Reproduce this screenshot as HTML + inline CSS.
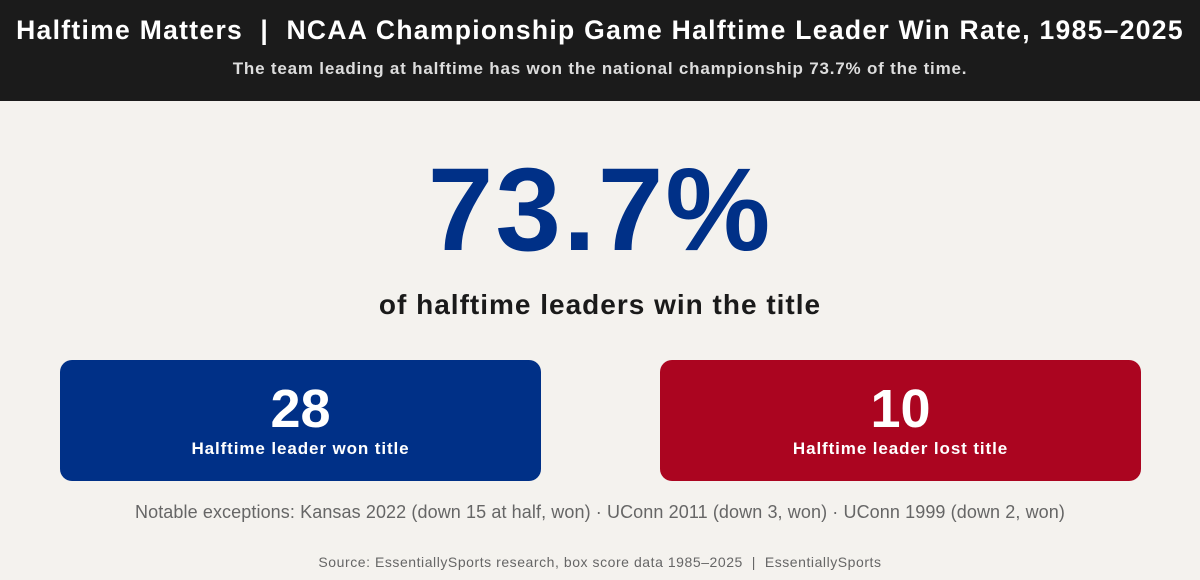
<!DOCTYPE html>
<html><head><meta charset="utf-8"><style>
*{margin:0;padding:0;box-sizing:border-box}
body{width:1200px;height:580px;background:#f4f2ee;font-family:"Liberation Sans",sans-serif;position:relative;overflow:hidden}
.hdr{position:absolute;left:0;top:0;width:1200px;height:101px;background:#1b1b1b}
.t{position:absolute;left:0;width:1200px;text-align:center;white-space:nowrap}
.box{position:absolute;top:360px;width:481px;height:121px;border-radius:12px;color:#fff;text-align:center}
.box .n{position:absolute;left:0;width:100%;top:20px;font-size:54px;font-weight:bold;line-height:58px}
.box .l{position:absolute;left:0;width:100%;top:78px;font-size:17px;font-weight:bold;line-height:22px;letter-spacing:0.9px}
</style></head><body>
<div class="hdr"></div>
<div class="t" style="top:14px;font-size:26.5px;font-weight:bold;color:#fff;line-height:32px;letter-spacing:1.3px">Halftime Matters &nbsp;| &nbsp;NCAA Championship Game Halftime Leader Win Rate, 1985–2025</div>
<div class="t" style="top:58px;font-size:17px;font-weight:bold;color:#ddd;line-height:22px;letter-spacing:0.8px">The team leading at halftime has won the national championship 73.7% of the time.</div>
<div class="t" style="top:146px;font-size:118px;font-weight:bold;color:#003087;line-height:128px;letter-spacing:2px">73.7%</div>
<div class="t" style="top:288px;font-size:28px;font-weight:bold;color:#1a1a1a;line-height:34px;letter-spacing:1px">of halftime leaders win the title</div>
<div class="box" style="left:60px;background:#003087"><div class="n">28</div><div class="l">Halftime leader won title</div></div>
<div class="box" style="left:660px;background:#ab0520"><div class="n">10</div><div class="l">Halftime leader lost title</div></div>
<div class="t" style="top:501px;font-size:18px;color:#666;line-height:22px;letter-spacing:0.1px">Notable exceptions: Kansas 2022 (down 15 at half, won) · UConn 2011 (down 3, won) · UConn 1999 (down 2, won)</div>
<div class="t" style="top:553px;font-size:14px;color:#666;line-height:18px;letter-spacing:0.55px">Source: EssentiallySports research, box score data 1985–2025 &nbsp;| &nbsp;EssentiallySports</div>
</body></html>
